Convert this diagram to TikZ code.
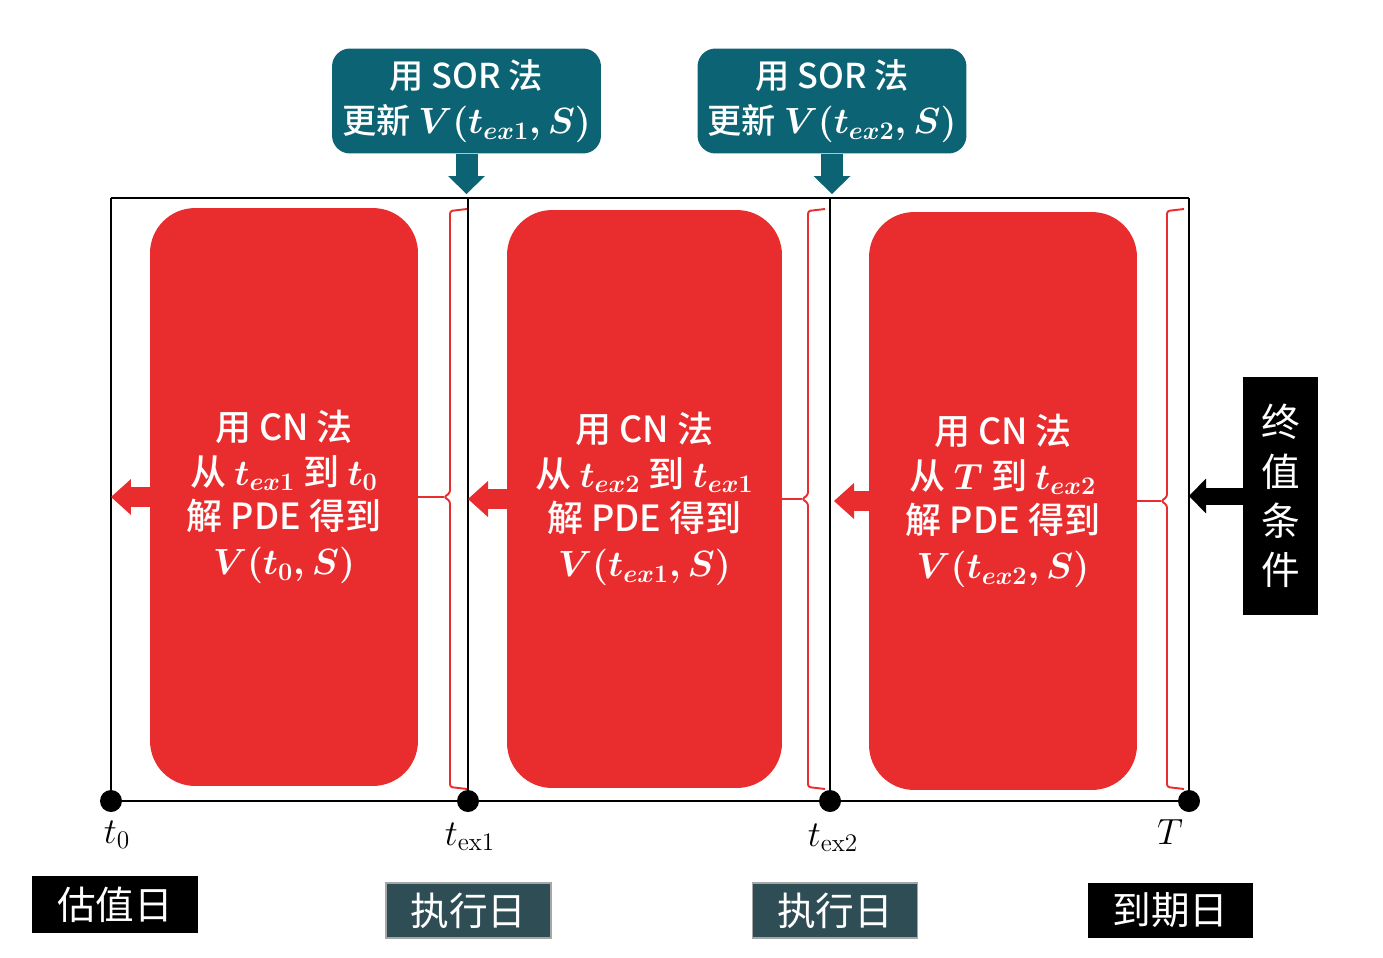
\documentclass[tikz,border=0pt]{standalone}
\usepackage[no-math]{fontspec}
\setmainfont{Noto Sans CJK SC}[BoldFont={* Medium}]
\usetikzlibrary{arrows.meta,positioning}
\definecolor{cnred}{HTML}{E92D2E}
\definecolor{sorteal}{HTML}{0C6374}
\definecolor{exslate}{HTML}{2F4D55}

\begin{document}
\begin{tikzpicture}[x=0.02cm,y=-0.02cm,
  cnbox/.style={fill=cnred,rounded corners=0.9cm,minimum width=5.36cm,minimum height=11.56cm,text=white,align=center,inner sep=0pt,font=\fontsize{20.5}{25.4}\selectfont\bfseries\boldmath},
  sorbox/.style={fill=sorteal,rounded corners=0.36cm,minimum width=5.38cm,minimum height=2.1cm,text=white,align=center,inner sep=0pt,font=\fontsize{19.5}{26}\selectfont\bfseries\boldmath},
  daybox/.style={fill=black,minimum width=3.3cm,minimum height=1.1cm,text=white,inner sep=0pt,font=\fontsize{22}{26}\selectfont},
  exbox/.style={daybox,fill=exslate,draw=gray!70,line width=0.6pt},
  endbox/.style={fill=black,minimum width=1.5cm,minimum height=4.76cm,text=white,align=center,inner sep=0pt,font=\fontsize{22}{28}\selectfont},
  tick/.style={circle,fill=black,inner sep=0pt,minimum size=0.44cm},
  frame/.style={line width=1.4pt},
  bracket/.style={draw=cnred,line width=1.1pt,rounded corners=1.5pt},
  cnarrow/.style={draw=cnred,line width=0.4cm,-{Triangle[length=0.4cm,width=0.72cm,line width=0pt]}},
  sorarrow/.style={draw=sorteal,line width=0.44cm,-{Triangle[length=0.36cm,width=0.74cm,line width=0pt]}},
  endarrow/.style={draw=black,line width=0.34cm,-{Triangle[length=0.34cm,width=0.7cm,line width=0pt]}},
  tlabel/.style={font=\fontsize{21}{24}\selectfont}
]
\useasboundingbox (0,0) rectangle (1383,957);

% time axis
\coordinate (t0) at (111,801);
\coordinate (tex1) at (468,801);
\coordinate (tex2) at (830,801);
\coordinate (tT) at (1189,801);
\foreach \t in {t0,tex1,tex2,tT}
  \draw[frame] (\t) -- (\t |- 0,198);
\draw[frame] (t0 |- 0,198) -- (tT |- 0,198);
\draw[frame] (t0) -- (tT);

% CN blocks
\node[cnbox] (cn1) at (284,497) {用 CN 法\\从 $t_{ex1}$ 到 $t_0$\\解 PDE 得到\\$V(t_0,S)$};
\node[cnbox,minimum width=5.5cm] (cn2) at (644.5,499) {用 CN 法\\从 $t_{ex2}$ 到 $t_{ex1}$\\解 PDE 得到\\$V(t_{ex1},S)$};
\node[cnbox] (cn3) at (1003,501) {用 CN 法\\从 $T$ 到 $t_{ex2}$\\解 PDE 得到\\$V(t_{ex2},S)$};

% brackets
\foreach \b/\x/\y in {cn1/450/497,cn2/808/499,cn3/1167/501}{
  \draw[bracket] (\x+17,209) -- (\x,211) -- (\x,\y-4) -- (\x-6,\y) -- (\x,\y+4) -- (\x,787) -- (\x+17,789);
  \draw[bracket] (\b.east) -- (\x-6,\y);
}

% backward steps
\draw[cnarrow] (cn1.west) -- (t0 |- cn1.west);
\draw[cnarrow] (cn2.west) -- (tex1 |- cn2.west);
\draw[cnarrow] (cn3.west) -- ([xshift=0.08cm]tex2 |- cn3.west);

% SOR updates
\node[sorbox] (sor1) at (466.5,101) {用 SOR 法\\更新 $V(t_{ex1},S)$};
\node[sorbox] (sor2) at (832,101) {用 SOR 法\\更新 $V(t_{ex2},S)$};
\draw[sorarrow] (sor1.south) -- (sor1.south |- 0,194);
\draw[sorarrow] (sor2.south) -- (sor2.south |- 0,194);

% terminal condition
\node[endbox] (term) at (1280.5,496) {终\\值\\条\\件};
\draw[endarrow] (term.west) -- (tT |- term.west);

\foreach \t in {t0,tex1,tex2,tT}
  \node[tick] at (\t) {};

% labels
\node[tlabel] (lt0) at (117,835) {$t_0$};
\node[tlabel] (ltex1) at (470,837) {$t_{\mathrm{ex1}}$};
\node[tlabel] (ltex2) at (833,838) {$t_{\mathrm{ex2}}$};
\node[tlabel] (lT) at (1170,832) {$T$};

\node[daybox,minimum width=3.32cm,minimum height=1.14cm] (val) at (115,904.5) {估值日};
\node[exbox] (ex1) at (468.5,910.5) {执行日};
\node[exbox] (ex2) at (835,910.5) {执行日};
\node[daybox] (mat) at (1170.5,910.5) {到期日};
\end{tikzpicture}
\end{document}
